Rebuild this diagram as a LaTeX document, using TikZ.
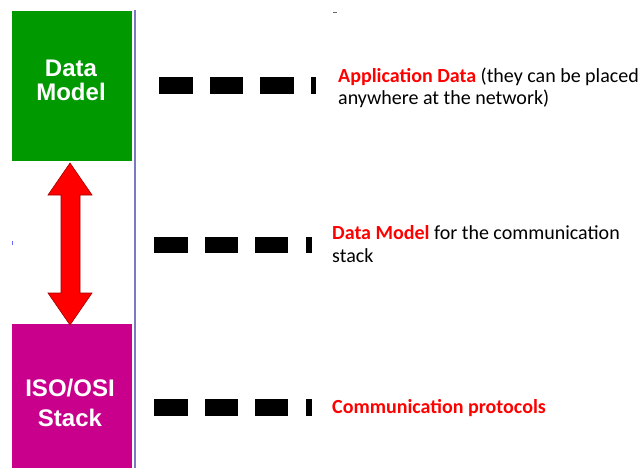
\documentclass[tikz,border=0pt]{standalone}
\usepackage{fontspec}
\setmainfont{Carlito}
\newfontfamily\arialfont{Liberation Sans}
\definecolor{boxgreen}{HTML}{009900}
\definecolor{boxmag}{HTML}{C8008C}
\definecolor{vline}{HTML}{7A7AC0}
\definecolor{arrred}{HTML}{FF0000}
\definecolor{arredge}{HTML}{A00000}
\begin{document}
\begin{tikzpicture}[x=1pt,y=-1pt,
  boxtext/.style={text=white,font=\arialfont\bfseries\fontsize{24}{28}\selectfont,anchor=base},
  dashbar/.style={fill=black,draw=none},
  desc/.style={font=\fontsize{20}{24}\selectfont,anchor=base west,inner sep=0pt}]
\useasboundingbox (0,0) rectangle (640,468);
% boxes
\fill[boxgreen] (12,11) rectangle (132,161);
\fill[boxmag] (12,324) rectangle (132,468);
\node[boxtext] (dm1) at (71,77) {Data};
\node[boxtext] (dm2) at (71,101) {Model};
\node[boxtext] (iso1) at (70,396) {ISO/OSI};
\node[boxtext] (iso2) at (70,426) {Stack};
% vertical line
\draw[vline,line width=1.5pt] (135,10) -- (135,468);
% double arrow
\filldraw[fill=arrred,draw=arredge,line width=0.6pt]
  (70,163) -- (92,195) -- (80,195) -- (80,293) -- (92,293) -- (70,325)
  -- (48,293) -- (61,293) -- (61,195) -- (48,195) -- cycle;
% dashes row 1
\fill[dashbar] (159,77) rectangle (193,94);
\fill[dashbar] (210,77) rectangle (243,94);
\fill[dashbar] (260,77) rectangle (294,94);
\fill[dashbar] (311,77) rectangle (316,94);
% dashes row 2
\fill[dashbar] (154,237) rectangle (188,253);
\fill[dashbar] (205,237) rectangle (238,253);
\fill[dashbar] (255,237) rectangle (288,253);
\fill[dashbar] (306,237) rectangle (312,253);
% dashes row 3
\fill[dashbar] (154,399) rectangle (188,416);
\fill[dashbar] (205,399) rectangle (238,416);
\fill[dashbar] (255,399) rectangle (288,416);
\fill[dashbar] (306,399) rectangle (312,416);
% texts
\node[desc] (t1a) at (338,83) {{\color{red}\bfseries Application Data} (they can be placed};
\node[desc] (t1b) at (338,105) {anywhere at the network)};
\node[desc] (t2a) at (332,239) {{\color{red}\bfseries Data Model} for the communication};
\node[desc] (t2b) at (332,262) {stack};
\node[desc,text=red,font=\bfseries\fontsize{20}{24}\selectfont] (t3) at (332,413) {Communication protocols};
% stray marks
\draw[black!60,line width=0.6pt] (333,12) -- (337,12);
\draw[blue!60,line width=0.8pt] (12,241) -- (12,245);
\end{tikzpicture}
\end{document}
